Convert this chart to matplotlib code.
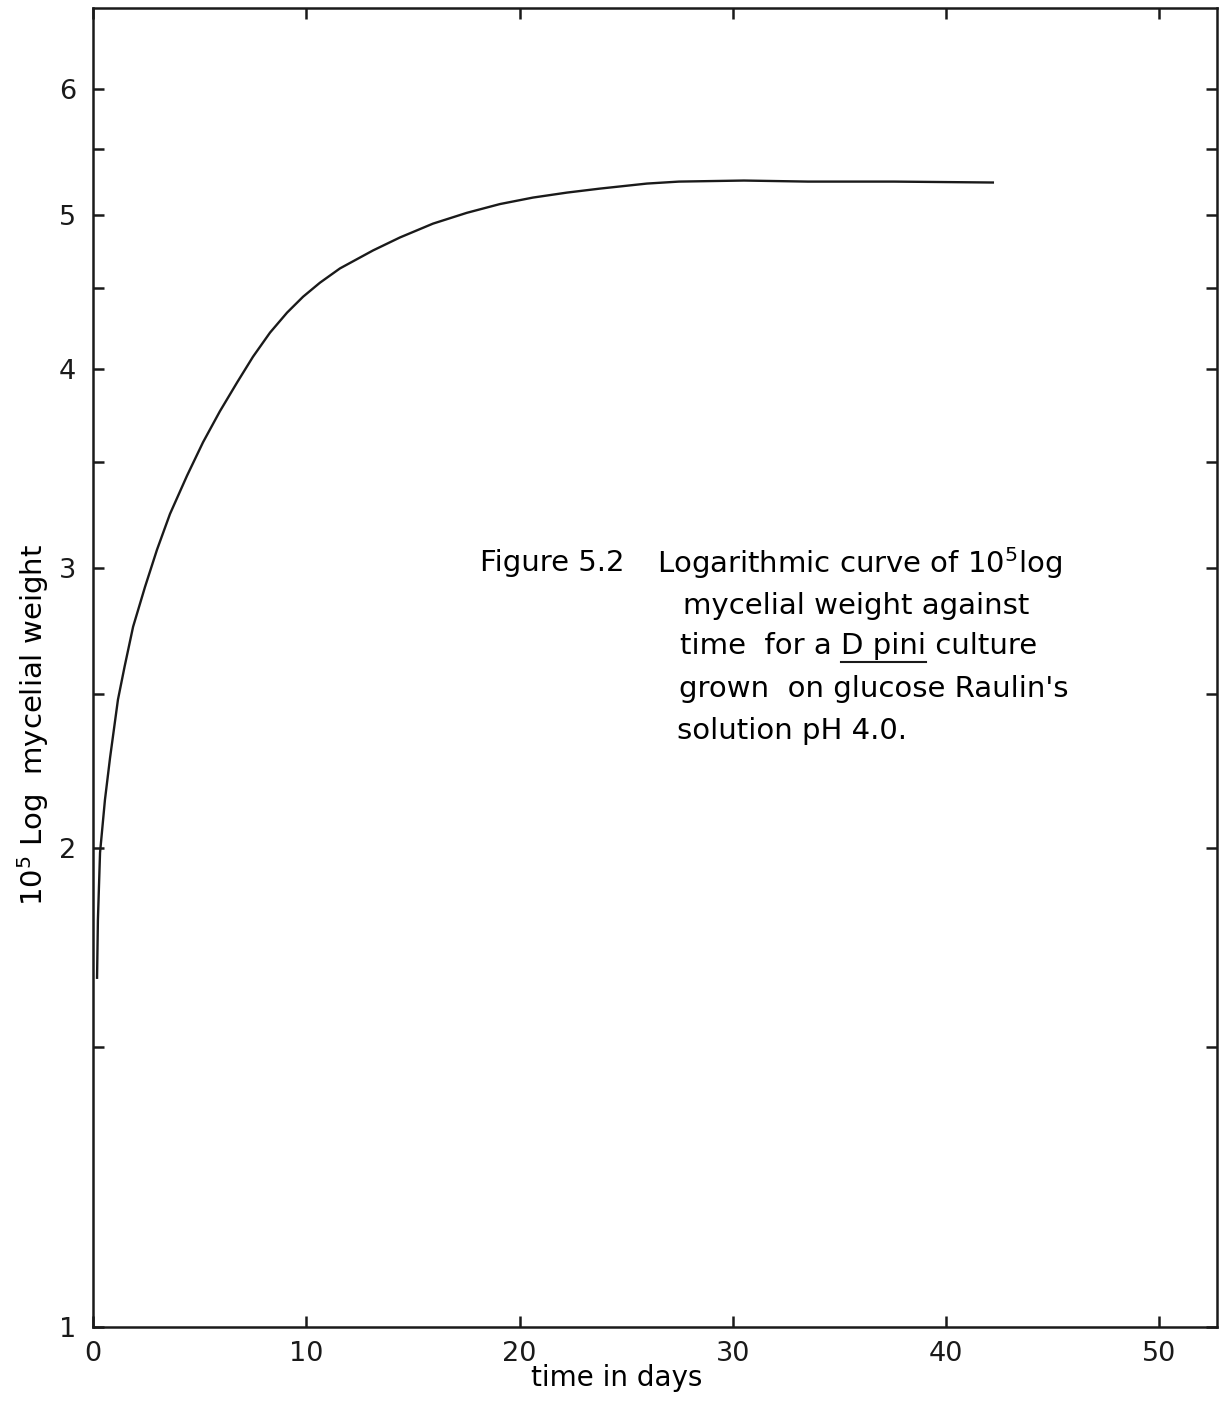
import numpy as np
import matplotlib.pyplot as plt
from matplotlib.ticker import FixedLocator, FixedFormatter, NullLocator

plt.rcParams['font.family'] = ['DejaVu Sans']
plt.rcParams['mathtext.fontset'] = 'dejavusans'

# readings (time in days, 10^5 log mycelial weight)
days = [0.19, 0.23, 0.33, 0.56, 0.80, 1.17, 1.48, 1.88, 2.44, 3.00, 3.61, 4.41,
        5.16, 5.95, 6.75, 7.50, 8.30, 9.10, 9.85, 10.64, 11.58, 13.13, 14.39,
        15.94, 17.53, 19.08, 20.63, 22.22, 23.77, 25.97, 27.47, 30.52, 33.52,
        37.55, 42.19]
weight = [1.658, 1.803, 1.987, 2.145, 2.280, 2.480, 2.601, 2.756, 2.920, 3.081,
          3.245, 3.430, 3.600, 3.765, 3.924, 4.074, 4.219, 4.343, 4.444, 4.535,
          4.630, 4.752, 4.842, 4.940, 5.018, 5.082, 5.130, 5.167, 5.197, 5.235,
          5.250, 5.258, 5.250, 5.250, 5.243]

xticks = [0, 10, 20, 30, 40, 50]
xlabels = ['0', '10', '20', '30', '40', '50']
yticks = [1, 1.5, 2, 2.5, 3, 3.5, 4, 4.5, 5, 5.5, 6]
ylabels = ['1', '', '2', '', '3', '', '4', '', '5', '', '6']

W, H = 1225, 1402
fig = plt.figure(figsize=(W/100, H/100), dpi=100)
ax = fig.add_axes([93/W, 1 - 1327/H, (1217-93)/W, (1327-8)/H])

ax.plot(days, weight, color='#1a1a1a', lw=1.7, solid_joinstyle='round')

ax.set_yscale('log')
ax.set_xlim(0, 52.7)
ax.set_ylim(1, 6.75)
ax.yaxis.set_major_locator(FixedLocator(yticks))
ax.yaxis.set_major_formatter(FixedFormatter(ylabels))
ax.yaxis.set_minor_locator(NullLocator())
ax.set_xticks(xticks)
ax.set_xticklabels(xlabels)

for s in ax.spines.values():
    s.set_linewidth(1.8)
    s.set_color('#1a1a1a')
ax.tick_params(direction='in', length=8, width=1.8, colors='#1a1a1a',
               top=True, right=True, labelsize=19.5)
ax.tick_params(axis='y', pad=12)
ax.tick_params(axis='x', pad=10)

ax.set_xlabel('time in days', fontsize=20)
ax.xaxis.set_label_coords((617-93)/1124, (1327-1364)/1319)
ax.set_ylabel('10$^5$ Log  mycelial weight', fontsize=21)
ax.yaxis.set_label_coords((51-93)/1124, (1327-725)/1319)

# caption inside the plot
fs = 21
fig.text(480/W, 1 - 563/H, 'Figure 5.2', fontsize=fs, va='center')
fig.text(657/W, 1 - 563/H, 'Logarithmic curve of 10$^5$log', fontsize=fs, va='center')
fig.text(683/W, 1 - 606/H, 'mycelial weight against', fontsize=fs, va='center')
t1 = fig.text(680/W, 1 - 646/H, 'time  for a ', fontsize=fs, va='center')
fig.canvas.draw()
r = fig.canvas.get_renderer()
bb = t1.get_window_extent(r)
t2 = fig.text(bb.x1/W, 1 - 646/H, 'D pini', fontsize=fs, va='center')
bb2 = t2.get_window_extent(r)
fig.text(bb2.x1/W, 1 - 646/H, ' culture', fontsize=fs, va='center')
fig.add_artist(plt.Line2D([bb2.x0/W, bb2.x1/W],
                          [(bb2.y0 - 2)/H, (bb2.y0 - 2)/H],
                          transform=fig.transFigure, color='#1a1a1a', lw=1.5))
fig.text(679/W, 1 - 689/H, "grown  on glucose Raulin's", fontsize=fs, va='center')
fig.text(677/W, 1 - 731/H, 'solution pH 4.0.', fontsize=fs, va='center')

fig.savefig('out.png', dpi=100)
